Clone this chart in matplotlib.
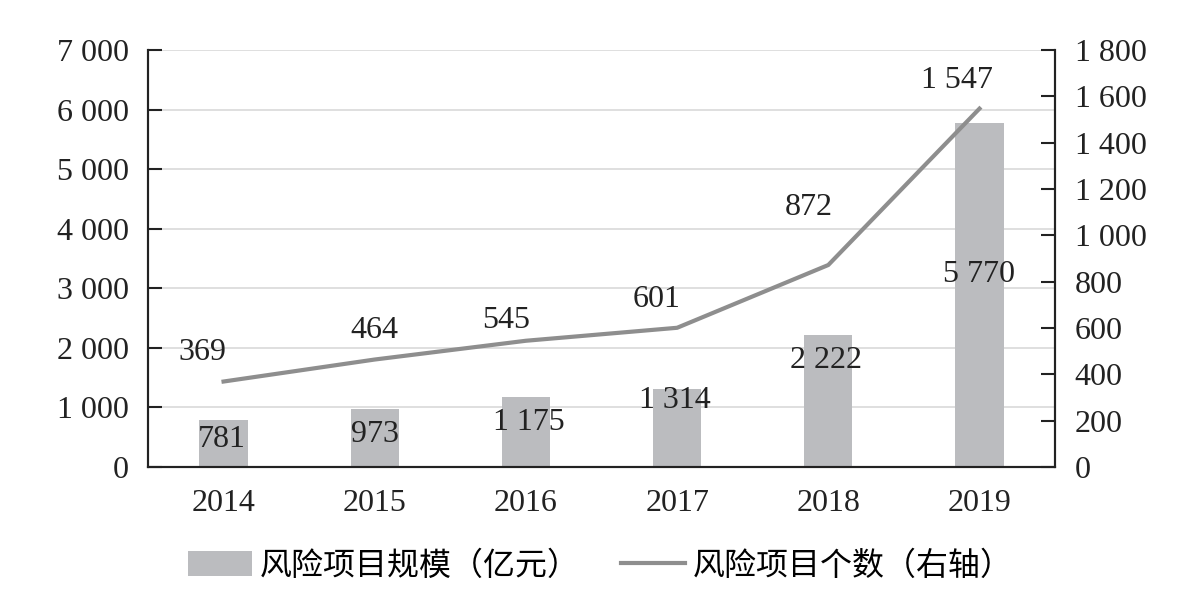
import matplotlib
matplotlib.use("Agg")
from matplotlib import pyplot as plt

# data
years = ["2014", "2015", "2016", "2017", "2018", "2019"]
scale = [781, 973, 1175, 1314, 2222, 5770]      # 风险项目规模（亿元）, left axis
count = [369, 464, 545, 601, 872, 1547]         # 风险项目个数, right axis

# label offsets (points) relative to the data point, as placed in the source
scale_off = [(-1, -14), (0, -18.5), (2, -18.5), (-1.4, -8.7), (-2, -18.8), (0, -109)]
count_off = [(-15, 20.7), (0, 20.7), (-14.4, 14.3), (-15, 20.1), (-14.4, 41.2), (-16.5, 20)]

def fmt(v):
    return f"{v:,}".replace(",", " ")

plt.rcParams['font.family'] = ['Liberation Serif', 'Noto Sans CJK SC']
fs = 23

fig = plt.figure(figsize=(12.01, 5.89), dpi=100)
ax = fig.add_axes([0.1232, 0.2071, 0.7553, 0.708])
ax2 = ax.twinx()

x = list(range(len(years)))
bars = ax.bar(x, scale, width=0.32, color="#bbbcbf", zorder=2, label="风险项目规模（亿元）")
line, = ax2.plot(x, count, color="#8e8e8e", lw=3, zorder=3, label="风险项目个数（右轴）")

ax.set_ylim(0, 7000)
ax.set_yticks(range(0, 7001, 1000))
ax.set_yticklabels([fmt(v) for v in range(0, 7001, 1000)])
ax2.set_ylim(0, 1800)
ax2.set_yticks(range(0, 1801, 200))
ax2.set_yticklabels([fmt(v) for v in range(0, 1801, 200)])
ax.set_xlim(-0.5, 5.5)
ax.set_xticks(x)
ax.set_xticklabels(years)

ax.grid(axis="y", color="#d9d9d9", lw=1.2, zorder=0)
ax.set_axisbelow(True)

for a in (ax, ax2):
    a.spines['top'].set_visible(False)
    for s in a.spines.values():
        s.set_color("#222222")
        s.set_linewidth(1.5)
ax.tick_params(axis="y", direction="in", length=10, width=1.5, labelsize=fs, pad=14, colors="#222222")
ax.tick_params(axis="x", length=0, labelsize=fs, pad=16, colors="#222222")
ax2.tick_params(axis="y", direction="in", length=10, width=1.5, labelsize=fs, pad=14, colors="#222222")

ax2.set_zorder(ax.get_zorder() + 1)
ax2.patch.set_visible(False)

for i, v in enumerate(scale):
    ax.annotate(fmt(v), (x[i], v), xytext=scale_off[i], textcoords="offset points",
                ha="center", va="center", fontsize=fs, color="#222222", zorder=4)
for i, v in enumerate(count):
    ax2.annotate(fmt(v), (x[i], v), xytext=count_off[i], textcoords="offset points",
                 ha="center", va="center", fontsize=fs, color="#222222")

fig.legend(handles=[bars, line], loc="center", bbox_to_anchor=(0.5, 0.04), ncol=2,
           frameon=False, prop={'family': ['Noto Sans CJK SC'], 'size': fs},
           handlelength=2.0, handleheight=0.8, columnspacing=1.3, handletextpad=0.25)

fig.savefig("out.png", dpi=100)
